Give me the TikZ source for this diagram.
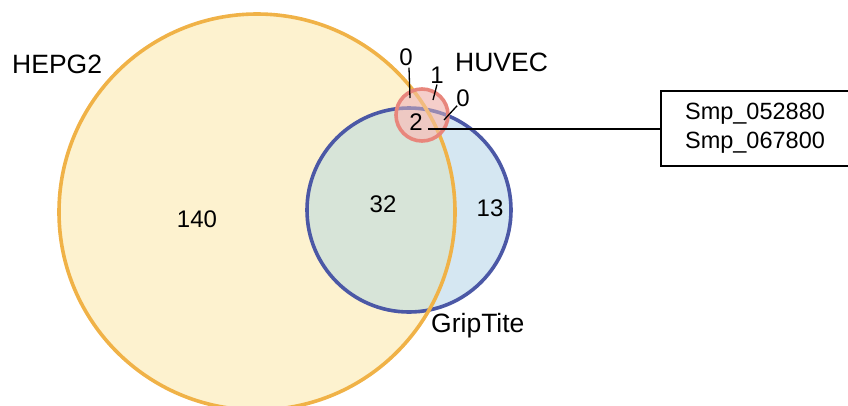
\documentclass[tikz,border=0pt]{standalone}
\usepackage{fontspec}
\setmainfont{Liberation Sans}
\definecolor{hepFill}{HTML}{FDF2CF}
\definecolor{hepLine}{HTML}{F0B247}
\definecolor{gtFill}{HTML}{D5E7F2}
\definecolor{gtLine}{HTML}{4B58A6}
\definecolor{mixFill}{HTML}{D7E4D8}
\definecolor{huvFill}{HTML}{F3C6C1}
\definecolor{huvLine}{HTML}{E8867C}
\tikzset{
  setline/.style={line width=3.6pt},
  lbl/.style={font=\fontsize{26.5}{28}\selectfont, inner sep=0pt},
  num/.style={font=\fontsize{24}{26}\selectfont, inner sep=0pt},
  leader/.style={line width=1.3pt},
  genebox/.style={draw, line width=2pt, font=\fontsize{23.5}{28}\selectfont, align=center, minimum width=189pt, minimum height=75pt, inner sep=0pt}
}
\begin{document}
\begin{tikzpicture}[x=1pt,y=-1pt]
\useasboundingbox (0,0) rectangle (848,405);
% set centres and radii
\coordinate (cH) at (257,212);
\coordinate (cG) at (409,210);
\coordinate (cU) at (422,115);
\def\rH{198}\def\rG{102}\def\rU{26}
% fills
\fill[hepFill] (cH) circle (\rH);
\fill[gtFill] (cG) circle (\rG);
\begin{scope}
  \clip (cH) circle (\rH);
  \fill[mixFill] (cG) circle (\rG);
\end{scope}
\fill[huvFill, fill opacity=0.75] (cU) circle (\rU);
% outlines
\draw[setline, gtLine] (cG) circle (\rG);
\draw[setline, hepLine] (cH) circle (\rH);
\fill[huvFill, fill opacity=0.45] (cU) circle (\rU);
\draw[setline, huvLine] (cU) circle (\rU);
% set names
\node[lbl, anchor=west] (nHep) at (12,64) {HEPG2};
\node[lbl, anchor=west] (nHuv) at (455,62) {HUVEC};
\node[lbl, anchor=west] (nGrip) at (431,326) {GripTite};
% counts
\node[num] (n140) at (197,219) {140};
\node[num] (n32) at (383,204) {32};
\node[num] (n13) at (490,208) {13};
\node[num] (n2) at (416,122) {2};
\node[num] (z1) at (406,57) {0};
\node[num] (o1) at (437,75) {1};
\node[num] (z2) at (463,98) {0};
% leaders
\coordinate (pz1) at (410,98);
\coordinate (po1) at (433,100);
\coordinate (pz2) at (444,120);
\draw[leader] (z1.south) ++(3,2) -- (pz1);
\draw[leader] (o1.south) ++(0,1) -- (po1);
\draw[leader] (z2.south west) ++(1,-1) -- (pz2);
% gene list
\node[genebox] (genes) at (755,128) {Smp\_052880\\[1pt]Smp\_067800};
\draw[line width=2.4pt] (n2.east) ++(5,7) -- (genes.west |- 0,129);
\end{tikzpicture}
\end{document}
